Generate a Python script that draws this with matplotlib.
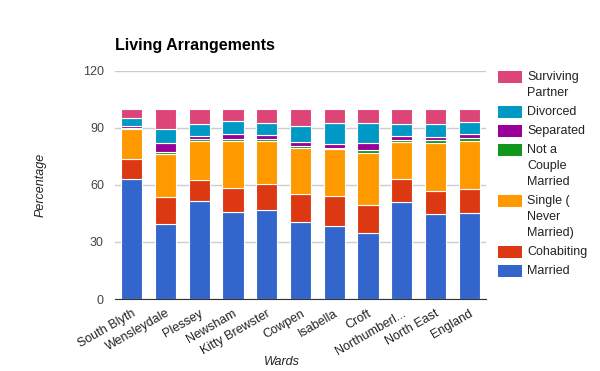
import numpy as np
import matplotlib.pyplot as plt
from matplotlib.patches import Rectangle

wards = ["South Blyth", "Wensleydale", "Plessey", "Newsham", "Kitty Brewster",
         "Cowpen", "Isabella", "Croft", "Northumberl...", "North East", "England"]

# percentages, bottom -> top of each stack
married    = [63.0, 39.6, 51.7, 46.0, 46.7, 40.7, 38.6, 34.6, 51.2, 44.9, 45.4]
cohabiting = [10.5, 14.2, 11.1, 12.6, 14.0, 14.7, 15.8, 15.0, 11.8, 11.9, 12.3]
single     = [16.0, 22.7, 20.5, 24.7, 22.6, 24.2, 24.4, 27.4, 19.8, 25.5, 25.6]
not_couple = [0.5, 1.0, 0.7, 1.0, 1.0, 0.8, 0.7, 1.4, 1.0, 1.2, 1.4]
separated  = [1.0, 4.5, 2.0, 2.7, 2.2, 2.4, 2.3, 3.9, 2.2, 1.9, 2.3]
divorced   = [4.0, 7.6, 6.3, 6.8, 6.3, 8.4, 10.6, 10.5, 6.3, 6.9, 6.3]
surviving  = [5.0, 10.4, 7.7, 6.2, 7.2, 8.8, 7.7, 7.2, 7.7, 7.7, 6.7]

series = [married, cohabiting, single, not_couple, separated, divorced, surviving]
labels = ["Married", "Cohabiting", "Single (\nNever\nMarried)", "Not a\nCouple\nMarried",
          "Separated", "Divorced", "Surviving\nPartner"]
colors = ["#3366cc", "#dc3912", "#ff9900", "#109618", "#990099", "#0099c6", "#dd4477"]
yticks = [0, 30, 60, 90, 120]

plt.rcParams['font.family'] = ['Liberation Sans', 'DejaVu Sans']

W, H = 600, 371
fig = plt.figure(figsize=(6, 3.71), dpi=100)
ax = fig.add_axes([115 / W, 1 - 299 / H, (486 - 115) / W, (299 - 71) / H])

x = np.arange(len(wards))
bottom = np.zeros(len(wards))
for vals, col in zip(series, colors):
    ax.bar(x, vals, bottom=bottom, width=0.63, color=col,
           edgecolor="white", linewidth=0.8, zorder=3)
    bottom += np.array(vals)

ax.set_xlim(-0.5, len(wards) - 0.5)
ax.set_ylim(0, 120)
ax.set_yticks(yticks)
ax.set_yticklabels([str(t) for t in yticks], color="#444444", fontsize=9)
ax.grid(axis="y", color="#cccccc", linewidth=1, zorder=0)
ax.tick_params(axis="both", length=0, pad=8)
ax.set_xticks(x)
ax.set_xticklabels(wards, rotation=30, ha="right", rotation_mode="anchor",
                   fontsize=9, color="#222222")
ax.tick_params(axis="x", pad=6)
for s in ["top", "right", "left"]:
    ax.spines[s].set_visible(False)
ax.spines["bottom"].set_color("#333333")
ax.spines["bottom"].set_zorder(4)

ax.set_xlabel("Wards", style="italic", fontsize=9, color="#222222")
ax.xaxis.set_label_coords(0.45, -0.25)
fig.text(41 / W, 1 - 185 / H, "Percentage", rotation=90, style="italic",
         fontsize=9, color="#222222", ha="center", va="center")

fig.text(115 / W, 1 - 50 / H, "Living Arrangements", fontsize=11.5, weight="bold",
         color="#000000", ha="left", va="baseline")

# legend, top entry is the top of the stack
y = 71
for lab, col in zip(labels[::-1], colors[::-1]):
    lines = lab.split("\n")
    fig.add_artist(Rectangle((498 / W, 1 - (y + 12) / H), 24 / W, 12 / H,
                             transform=fig.transFigure, color=col, lw=0))
    for i, line in enumerate(lines):
        fig.text(527 / W, 1 - (y + 6 + 16 * i) / H, line, fontsize=9,
                 color="#222222", ha="left", va="center")
    y += len(lines) * 16 + 3

fig.savefig("out.png", dpi=100)
